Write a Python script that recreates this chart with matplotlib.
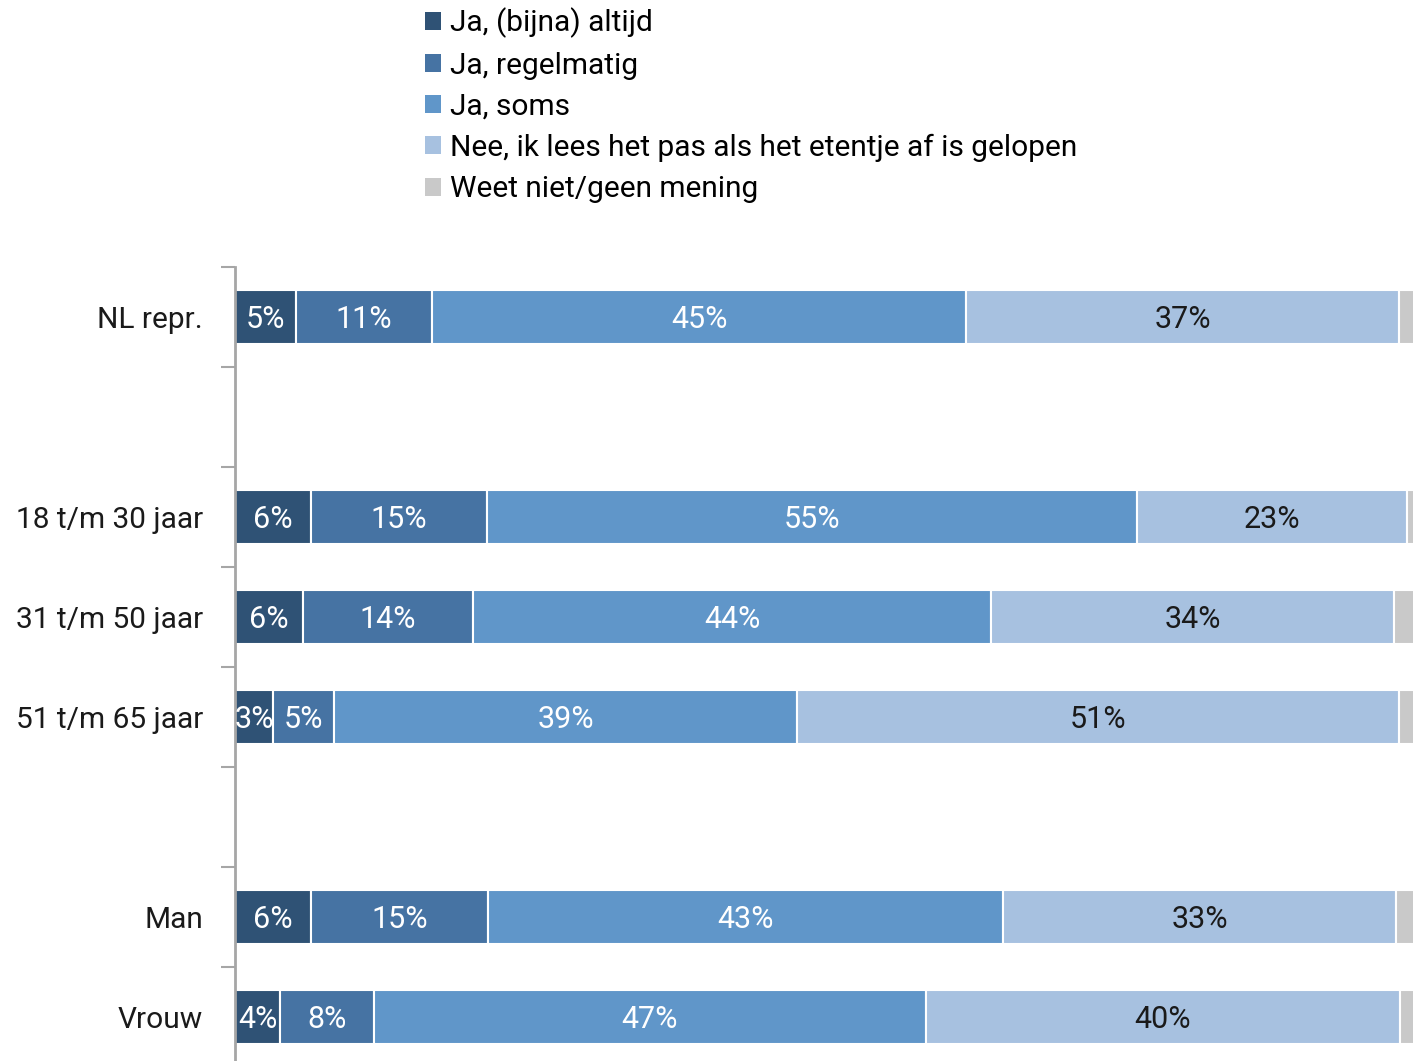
import matplotlib
matplotlib.use("Agg")
import matplotlib.pyplot as plt
from matplotlib.patches import Patch
import numpy as np

plt.rcParams['font.family'] = ['Roboto', 'DejaVu Sans']

categories = ["NL repr.", "", "18 t/m 30 jaar", "31 t/m 50 jaar", "51 t/m 65 jaar", "", "Man", "Vrouw"]
series_names = ["Ja, (bijna) altijd", "Ja, regelmatig", "Ja, soms",
                "Nee, ik lees het pas als het etentje af is gelopen", "Weet niet/geen mening"]
altijd      = [5.15, 0, 6.41, 5.74, 3.21, 0, 6.41, 3.80]
regelmatig  = [11.48, 0, 14.85, 14.35, 5.15, 0, 14.94, 7.93]
soms        = [45.06, 0, 54.85, 43.71, 39.07, 0, 43.45, 46.58]
nee         = [36.54, 0, 22.78, 34.01, 50.80, 0, 33.20, 40.00]
weet_niet   = [1.77, 0, 1.11, 2.19, 1.77, 0, 2.00, 1.69]

colors = ["#2f5275", "#4673a3", "#6096c9", "#a7c1e0", "#c9c9c9"]
text_colors = ["white", "white", "white", "#1a1a1a", None]

W, H = 1413, 1061
fig = plt.figure(figsize=(W / 100, H / 100), dpi=100)
ax = fig.add_axes([235 / W, 1 - 1067 / H, (1420 - 235) / W, 800 / H])

series = [altijd, regelmatig, soms, nee, weet_niet]
y = np.arange(len(categories))
left = np.zeros(len(categories))
for s, col, tc in zip(series, colors, text_colors):
    vals = np.array(s, dtype=float)
    mask = vals > 0
    ax.barh(y[mask], vals[mask], left=left[mask], height=0.545, color=col,
            edgecolor="white", linewidth=1.5)
    if tc is not None:
        for yi, v, l in zip(y[mask], vals[mask], left[mask]):
            ax.text(l + v / 2, yi, f"{round(v):d}%", ha="center", va="center_baseline",
                    color=tc, fontsize=22)
    left = left + vals

ax.set_xlim(0, 100)
ax.set_ylim(len(categories) - 0.5, -0.5)
ax.set_yticks(y)
ax.set_yticklabels(categories, fontsize=21.5, color="#1a1a1a", va="center_baseline")
ax.tick_params(axis="y", which="major", length=0, pad=23)
ax.set_yticks(np.arange(-0.5, len(categories), 1.0), minor=True)
ax.tick_params(axis="y", which="minor", length=10, width=1.5, color="#a6a6a6")
ax.set_xticks([])
for sp in ["top", "right", "bottom"]:
    ax.spines[sp].set_visible(False)
ax.spines["left"].set_color("#a6a6a6")
ax.spines["left"].set_linewidth(2)

handles = [Patch(facecolor=c, edgecolor="none") for c in colors]
fig.legend(handles, series_names, loc="upper left", bbox_to_anchor=(413 / W, 1.004),
           frameon=False, fontsize=21.5, handlelength=0.55, handleheight=0.55,
           handletextpad=0.3, labelspacing=0.44, borderaxespad=0)

fig.savefig("out.png", dpi=100)
